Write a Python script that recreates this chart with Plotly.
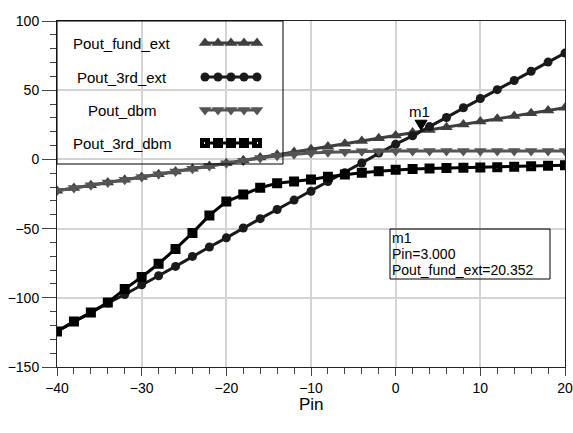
import plotly.graph_objects as go

pin = [-40, -38, -36, -34, -32, -30, -28, -26, -24, -22, -20, -18, -16, -14, -12, -10,
       -8, -6, -4, -2, 0, 2, 4, 6, 8, 10, 12, 14, 16, 18, 20]
pout_fund_ext = [-22.7, -20.7, -18.7, -16.7, -14.7, -12.7, -10.7, -8.7, -6.7, -4.7, -2.7,
                 -0.7, 1.3, 3.3, 5.3, 7.3, 9.3, 11.3, 13.3, 15.3, 17.3, 19.4, 21.3, 23.3,
                 25.3, 27.3, 29.3, 31.3, 33.3, 35.3, 37.3]
pout_3rd_ext = [-124.4, -117.2, -110.7, -103.8, -97.6, -90.6, -84.1, -77.3, -70.1, -63.3,
                -56.7, -49.6, -42.8, -36.2, -29.4, -23.0, -16.0, -9.6, -2.6, 4.6, 11.0,
                17.0, 23.7, 30.3, 37.3, 44.0, 50.4, 57.0, 63.7, 70.3, 76.8]
pout_dbm = [-22.7, -20.7, -18.7, -16.7, -14.7, -12.7, -10.7, -8.7, -6.7, -4.7, -2.8, -0.9,
            1.0, 2.6, 3.8, 4.6, 5.2, 5.6, 5.8, 5.9, 6.0, 6.0, 6.0, 6.0, 6.0, 6.0, 6.0, 6.0,
            6.0, 6.0, 6.0]
pout_3rd_dbm = [-124.4, -117.2, -110.7, -103.4, -93.7, -85.0, -75.4, -64.7, -53.1, -40.5,
                -30.5, -25.4, -20.5, -17.2, -15.9, -14.5, -12.5, -10.9, -9.6, -8.5, -7.5,
                -6.9, -6.5, -6.2, -6.0, -5.8, -5.6, -5.3, -5.0, -4.6, -4.2]

series_names = ["Pout_fund_ext", "Pout_3rd_ext", "Pout_dbm", "Pout_3rd_dbm"]
marker_pin = 3.0
marker_val = 20.352

FONT = "Liberation Sans, Arial, sans-serif"
styles = [
    dict(color="#3f3f3f", symbol="triangle-up", size=11, lw=0),
    dict(color="#1a1a1a", symbol="circle", size=9, lw=0),
    dict(color="#555555", symbol="triangle-down", size=11, lw=0),
    dict(color="#000000", symbol="square-open", size=6, lw=4),
]
series = [pout_fund_ext, pout_3rd_ext, pout_dbm, pout_3rd_dbm]

W, H = 573, 433
ML, MR, MT, MB = 57, 8, 21, 66
PW, PH = W - ML - MR, H - MT - MB

def px_x(p):
    return (p - ML) / PW

def px_y(p):
    return (H - MB - p) / PH

fig = go.Figure()
for name, ys, st in zip(series_names, series, styles):
    fig.add_trace(go.Scatter(
        x=pin, y=ys, mode="lines+markers", name=name, showlegend=False,
        line=dict(color=st["color"], width=3),
        marker=dict(symbol=st["symbol"], size=st["size"], color=st["color"],
                    line=dict(width=st["lw"], color=st["color"])),
        xaxis="x", yaxis="y"))

# manual legend (text on the left, sample glyphs on the right)
rows_px = [43, 77, 110, 143]
for name, st, ry in zip(series_names, styles, rows_px):
    xs = [px_x(205 + i * 13.0) for i in range(5)]
    fig.add_trace(go.Scatter(
        x=xs, y=[px_y(ry)] * 5, mode="lines+markers", showlegend=False,
        line=dict(color=st["color"], width=3),
        marker=dict(symbol=st["symbol"], size=st["size"], color=st["color"],
                    line=dict(width=st["lw"], color=st["color"])),
        xaxis="x2", yaxis="y2", hoverinfo="skip"))
    fig.add_annotation(text=name, xref="paper", yref="paper", x=px_x(122), y=px_y(ry),
                       xanchor="center", yanchor="middle", showarrow=False,
                       font=dict(family=FONT, size=15, color="#000"))

shapes = [
    dict(type="rect", xref="paper", yref="paper", x0=0, x1=px_x(283), y0=px_y(164), y1=1,
         line=dict(color="#000", width=1)),
    dict(type="rect", xref="paper", yref="paper", x0=px_x(390), x1=px_x(550),
         y0=px_y(279), y1=px_y(229), line=dict(color="#000", width=1),
         fillcolor="rgba(255,255,255,0)"),
    # m1 marker triangle, tip on the marked point
    dict(type="path", xref="x", yref="y", xsizemode="pixel", ysizemode="pixel",
         xanchor=marker_pin, yanchor=marker_val,
         path="M -6,11 L 6,11 L 0,1 Z", fillcolor="#000", line=dict(color="#000", width=1)),
]

fig.add_annotation(text="m1", x=marker_pin, y=marker_val, xref="x", yref="y",
                   showarrow=False, yanchor="bottom", yshift=9, xshift=-2,
                   font=dict(family=FONT, size=15, color="#000"))
readout = ["m1", f"Pin={marker_pin:.3f}", f"Pout_fund_ext={marker_val:.3f}"]
for i, line in enumerate(readout):
    fig.add_annotation(text=line, xref="paper", yref="paper", x=px_x(391),
                       y=px_y(238 + 16 * i), xanchor="left", yanchor="middle",
                       align="left", showarrow=False, borderpad=0,
                       font=dict(family=FONT, size=14, color="#000"))
fig.add_annotation(text="Pin", xref="paper", yref="paper", x=0.5, y=px_y(405),
                   xanchor="center", yanchor="middle", showarrow=False,
                   font=dict(family=FONT, size=17, color="#000"))

axis_common = dict(
    showline=True, linecolor="#222", linewidth=1, mirror=True, automargin=False,
    ticks="outside", tickcolor="#444", tickwidth=1,
    showgrid=True, gridcolor="#d4d4d4", gridwidth=1.5, zeroline=False,
    tickfont=dict(family=FONT, size=14, color="#000"),
)
fig.update_layout(
    width=W, height=H, margin=dict(l=ML, r=MR, t=MT, b=MB),
    paper_bgcolor="white", plot_bgcolor="white", showlegend=False,
    shapes=shapes,
    xaxis=dict(range=[-40, 20], dtick=10, tick0=0, ticklen=8,
               minor=dict(dtick=2, ticks="outside", ticklen=6, tickcolor="#444",
                          showgrid=False),
               **axis_common),
    yaxis=dict(range=[-150, 100], dtick=50, tick0=0, ticklen=14,
               minor=dict(dtick=10, ticks="outside", ticklen=6, tickcolor="#444",
                          showgrid=False),
               **axis_common),
    xaxis2=dict(overlaying="x", range=[0, 1], visible=False, fixedrange=True),
    yaxis2=dict(overlaying="y", range=[0, 1], visible=False, fixedrange=True),
)

fig.write_html("out.html", config={"displayModeBar": False},
               post_script="document.body.style.margin='0px';"
                           "document.body.style.overflow='hidden';")
